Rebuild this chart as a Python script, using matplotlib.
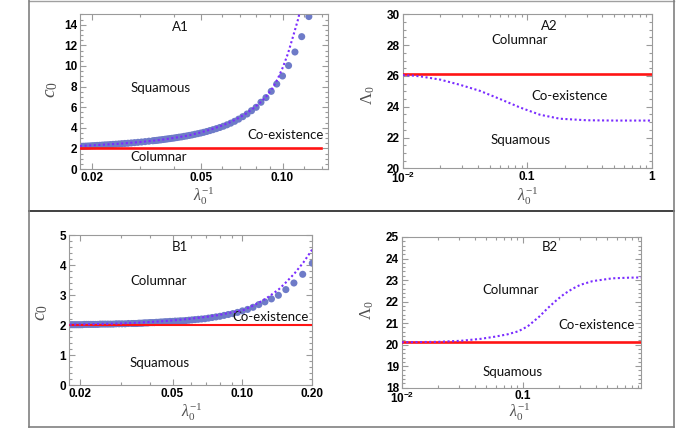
import matplotlib
matplotlib.use("Agg")
import matplotlib.pyplot as plt
import numpy as np
from matplotlib.ticker import FixedLocator, FixedFormatter, MultipleLocator

plt.rcParams['mathtext.fontset'] = 'custom'
plt.rcParams['mathtext.rm'] = 'Liberation Serif'
plt.rcParams['mathtext.it'] = 'Liberation Serif:italic'
plt.rcParams['mathtext.bf'] = 'Liberation Sans:bold'

# ---------------- data ----------------
# Panel A1 : scatter (lambda0 values, x = 1/lambda0) and c0
A1_lam = [8, 8.5, 9, 9.5, 10, 10.5, 11, 11.5, 12, 12.5, 13, 13.5, 14, 14.5, 15,
          15.5, 16, 16.5, 17, 17.5, 18, 18.5, 19, 19.5, 20, 20.5, 21, 21.5, 22,
          22.5, 23, 23.5, 24, 24.5, 25, 25.5, 26, 26.5, 27, 27.5, 28, 28.5, 29,
          29.5, 30, 31, 32, 33, 34, 35, 36, 37, 38, 39, 40, 41, 42, 43, 44, 45,
          46, 47, 48, 49, 50, 51, 52, 53, 54, 55]
A1_c0 = [14.8, 12.85, 11.36, 10.04, 9.03, 8.25, 7.54, 6.93, 6.48, 5.99, 5.66, 5.34,
         5.08, 4.84, 4.63, 4.45, 4.29, 4.15, 4.03, 3.92, 3.82, 3.73, 3.64, 3.56,
         3.49, 3.43, 3.37, 3.31, 3.26, 3.21, 3.17, 3.12, 3.09, 3.05, 3.01, 2.98,
         2.95, 2.92, 2.89, 2.86, 2.83, 2.81, 2.78, 2.76, 2.74, 2.70, 2.66, 2.62,
         2.59, 2.56, 2.53, 2.50, 2.48, 2.46, 2.43, 2.41, 2.39, 2.37, 2.35, 2.34,
         2.32, 2.30, 2.29, 2.27, 2.26, 2.24, 2.23, 2.22, 2.21, 2.20]
A1_line_x = [0.018, 0.02, 0.025, 0.03, 0.035, 0.04, 0.045, 0.05, 0.055, 0.06, 0.065,
             0.07, 0.0736, 0.0778, 0.0824, 0.0872, 0.0922, 0.0962, 0.1004, 0.1047,
             0.1093, 0.1140, 0.1173]
A1_line_c0 = [2.24, 2.30, 2.45, 2.62, 2.80, 3.02, 3.25, 3.55, 3.87, 4.22, 4.60, 5.05,
              5.40, 5.85, 6.40, 7.05, 7.90, 8.80, 9.90, 11.2, 12.85, 14.5, 15.9]
A1_red_x = [0.018, 0.139]
A1_red_c0 = [2.0, 2.0]

# Panel A2
A2_line_x = [0.01, 0.012, 0.0138, 0.02, 0.0289, 0.0417, 0.0604, 0.0875, 0.1265,
             0.183, 0.3, 0.5, 1.0]
A2_line_L = [26.05, 26.02, 25.97, 25.76, 25.42, 25.03, 24.50, 23.95, 23.48, 23.22,
             23.12, 23.10, 23.10]
A2_red_x = [0.01, 1.0]
A2_red_L = [26.1, 26.1]

# Panel B1
B1_lam = [5, 5.5, 6, 6.5, 7, 7.5, 8, 8.5, 9, 9.5, 10, 10.5, 11, 11.5, 12, 12.5, 13,
          13.5, 14, 14.5, 15, 15.5, 16, 16.5, 17, 17.5, 18, 18.5, 19, 19.5, 20,
          20.5, 21, 21.5, 22, 22.5, 23, 23.5, 24, 24.5, 25, 25.5, 26, 26.5, 27,
          27.5, 28, 28.5, 29, 29.5, 30, 31, 32, 33, 34, 35, 36, 37, 38, 39, 40,
          41, 42, 43, 44, 45, 46, 47, 48, 49, 50, 51, 52, 53, 54, 55]
B1_c0 = [4.06, 3.69, 3.40, 3.18, 2.99, 2.87, 2.77, 2.68, 2.59, 2.52, 2.47, 2.42,
         2.38, 2.35, 2.32, 2.29, 2.27, 2.25, 2.23, 2.21, 2.20, 2.19, 2.18, 2.17,
         2.16, 2.15, 2.14, 2.14, 2.13, 2.13, 2.12, 2.12, 2.11, 2.11, 2.10, 2.10,
         2.09, 2.09, 2.08, 2.08, 2.08, 2.07, 2.07, 2.07, 2.06, 2.06, 2.06, 2.05,
         2.05, 2.05, 2.05, 2.05, 2.04, 2.04, 2.04, 2.04, 2.03, 2.03, 2.03, 2.03,
         2.03, 2.03, 2.02, 2.02, 2.02, 2.02, 2.02, 2.02, 2.02, 2.01, 2.01, 2.01,
         2.01, 2.01, 2.01, 2.01]
B1_line_x = [0.018, 0.02, 0.03, 0.04, 0.05, 0.06, 0.07, 0.08, 0.09, 0.1014, 0.1065,
             0.1124, 0.1185, 0.1257, 0.1339, 0.1435, 0.1549, 0.1677, 0.1829, 0.2]
B1_line_c0 = [2.01, 2.02, 2.05, 2.10, 2.15, 2.21, 2.27, 2.34, 2.42, 2.50, 2.58, 2.66,
              2.76, 2.87, 3.02, 3.19, 3.44, 3.72, 4.08, 4.52]
B1_red_x = [0.018, 0.2]
B1_red_c0 = [2.0, 2.0]

# Panel B2
B2_line_x = [0.01, 0.02, 0.031, 0.045, 0.059, 0.075, 0.092, 0.11, 0.137, 0.16, 0.189,
             0.22, 0.259, 0.3, 0.378, 0.55, 0.75, 0.95]
B2_line_L = [20.11, 20.13, 20.18, 20.27, 20.37, 20.48, 20.62, 20.85, 21.3, 21.68,
             22.05, 22.35, 22.6, 22.78, 22.95, 23.08, 23.11, 23.12]
B2_red_x = [0.01, 0.95]
B2_red_L = [20.1, 20.1]

# ---------------- style ----------------
W, H = 692, 433
SC_COL = '#6e7bc8'
DOT_COL = '#7a2cff'
RED_COL = '#ff1414'
FRAME_COL = '#9a9a9a'
TXT_FONT = ['Lato', 'DejaVu Sans']
TICK_FONT = ['Liberation Sans', 'DejaVu Sans']

fig = plt.figure(figsize=(W / 100, H / 100), dpi=100)


def px_rect(l, t, r, b):
    return [l / W, 1 - b / H, (r - l) / W, (b - t) / H]


def style_axes(ax, xmajor, xlabels, xminor, ymaj_step, ymin_step):
    ax.set_xscale('log')
    ax.xaxis.set_major_locator(FixedLocator(xmajor))
    ax.xaxis.set_major_formatter(FixedFormatter(xlabels))
    ax.xaxis.set_minor_locator(FixedLocator(xminor))
    ax.xaxis.set_minor_formatter(FixedFormatter([''] * len(xminor)))
    ax.yaxis.set_major_locator(MultipleLocator(ymaj_step))
    ax.yaxis.set_minor_locator(MultipleLocator(ymin_step))
    ax.yaxis.set_major_formatter(matplotlib.ticker.FormatStrFormatter('%d'))
    ax.tick_params(which='both', direction='in', top=True, right=True,
                   color=FRAME_COL, width=0.8)
    ax.tick_params(which='major', length=4, labelsize=8.5, pad=2)
    ax.tick_params(which='minor', length=2)
    for lab in ax.get_xticklabels() + ax.get_yticklabels():
        lab.set_fontweight('bold')
        lab.set_family(TICK_FONT)
    for sp in ax.spines.values():
        sp.set_color(FRAME_COL)
        sp.set_linewidth(0.8)


def region_text(ax, fx, fy, s):
    ax.text(fx, fy, s, transform=ax.transAxes, ha='center', va='center',
            fontsize=9.5, family=TXT_FONT, color='#111111')


def fig_label(x, y, s, rot=0, size=11):
    fig.text(x / W, 1 - y / H, s, ha='center', va='center', rotation=rot,
             fontsize=size, color='#505050')


# ---- A1 ----
axA1 = fig.add_axes(px_rect(80, 14.5, 328, 169))
axA1.scatter(1 / np.array(A1_lam), A1_c0, s=26, color=SC_COL, edgecolors='none', zorder=2)
axA1.plot(A1_red_x, A1_red_c0, color=RED_COL, lw=1.9, zorder=3)
axA1.plot(A1_line_x, A1_line_c0, color=DOT_COL, lw=1.5, ls=(0, (1, 1.2)), zorder=4)
axA1.set_xlim(0.018, 0.147)
axA1.set_ylim(0, 15)
style_axes(axA1, [0.02, 0.05, 0.1], ['0.02', '0.05', '0.10'],
           [0.03, 0.04, 0.06, 0.07, 0.08, 0.09, 0.12, 0.14], 2, 0.5)
region_text(axA1, 0.403, 0.921, 'A1')
region_text(axA1, 0.323, 0.522, 'Squamous')
region_text(axA1, 0.829, 0.22, 'Co-existence')
region_text(axA1, 0.316, 0.076, 'Columnar')
fig_label(50, 90, r'$c_0$', rot=90, size=14)
fig_label(204, 196, r'$\lambda_0^{-1}$', size=11.5)

# ---- A2 ----
axA2 = fig.add_axes(px_rect(402.7, 14.3, 651.7, 168.3))
axA2.plot(A2_red_x, A2_red_L, color=RED_COL, lw=1.9, zorder=3)
axA2.plot(A2_line_x, A2_line_L, color=DOT_COL, lw=1.5, ls=(0, (1, 1.2)), zorder=4)
axA2.set_xlim(0.01, 1.0)
axA2.set_ylim(20, 30)
style_axes(axA2, [0.01, 0.1, 1.0], [r'$\mathbf{10^{-2}}$', '0.1', '1'],
           [0.02, 0.03, 0.04, 0.05, 0.06, 0.07, 0.08, 0.09,
            0.2, 0.3, 0.4, 0.5, 0.6, 0.7, 0.8, 0.9], 2, 0.5)
region_text(axA2, 0.589, 0.926, 'A2')
region_text(axA2, 0.468, 0.833, 'Columnar')
region_text(axA2, 0.669, 0.471, 'Co-existence')
region_text(axA2, 0.472, 0.184, 'Squamous')
fig_label(368, 95, r'$\Lambda_0$', rot=90, size=12)
fig_label(527.7, 196, r'$\lambda_0^{-1}$', size=11.5)

# ---- B1 ----
axB1 = fig.add_axes(px_rect(69, 235, 312.3, 385))
axB1.scatter(1 / np.array(B1_lam), B1_c0, s=26, color=SC_COL, edgecolors='none', zorder=2)
axB1.plot(B1_red_x, B1_red_c0, color=RED_COL, lw=1.5, zorder=3)
axB1.plot(B1_line_x, B1_line_c0, color=DOT_COL, lw=1.5, ls=(0, (1, 1.2)), zorder=4)
axB1.set_xlim(0.0179, 0.2)
axB1.set_ylim(0, 5)
style_axes(axB1, [0.02, 0.05, 0.1, 0.2], ['0.02', '0.05', '0.10', '0.20'],
           [0.03, 0.04, 0.06, 0.07, 0.08, 0.09], 1, 0.2)
region_text(axB1, 0.456, 0.922, 'B1')
region_text(axB1, 0.367, 0.693, 'Columnar')
region_text(axB1, 0.829, 0.455, 'Co-existence')
region_text(axB1, 0.374, 0.149, 'Squamous')
fig_label(40, 312.7, r'$c_0$', rot=90, size=14)
fig_label(191.7, 412, r'$\lambda_0^{-1}$', size=11.5)

# ---- B2 ----
axB2 = fig.add_axes(px_rect(401.7, 237, 641, 387.7))
axB2.plot(B2_red_x, B2_red_L, color=RED_COL, lw=1.9, zorder=3)
axB2.plot(B2_line_x, B2_line_L, color=DOT_COL, lw=1.5, ls=(0, (1, 1.2)), zorder=4)
axB2.set_xlim(0.01, 0.95)
axB2.set_ylim(18, 25)
style_axes(axB2, [0.01, 0.1], [r'$\mathbf{10^{-2}}$', '0.1'],
           [0.02, 0.03, 0.04, 0.05, 0.06, 0.07, 0.08, 0.09,
            0.2, 0.3, 0.4, 0.5, 0.6, 0.7, 0.8, 0.9], 1, 0.2)
region_text(axB2, 0.619, 0.933, 'B2')
region_text(axB2, 0.454, 0.65, 'Columnar')
region_text(axB2, 0.816, 0.416, 'Co-existence')
region_text(axB2, 0.463, 0.104, 'Squamous')
fig_label(366.7, 310.3, r'$\Lambda_0$', rot=90, size=12)
fig_label(520.3, 412, r'$\lambda_0^{-1}$', size=11.5)

# ---- outer frame lines ----
def hline(y, x0, x1, col, lw):
    fig.add_artist(plt.Line2D([x0 / W, x1 / W], [1 - y / H, 1 - y / H],
                              color=col, lw=lw, transform=fig.transFigure))


def vline(x, y0, y1, col, lw):
    fig.add_artist(plt.Line2D([x / W, x / W], [1 - y0 / H, 1 - y1 / H],
                              color=col, lw=lw, transform=fig.transFigure))


hline(1, 28.5, 674, '#a0a0a0', 1.0)
hline(210.5, 28.5, 674, '#404040', 1.4)
hline(427, 28.5, 674, '#808080', 1.2)
vline(28.5, 0, 427, '#808080', 1.2)
vline(674, 0, 427, '#808080', 1.2)

fig.savefig('out.png', dpi=100)
